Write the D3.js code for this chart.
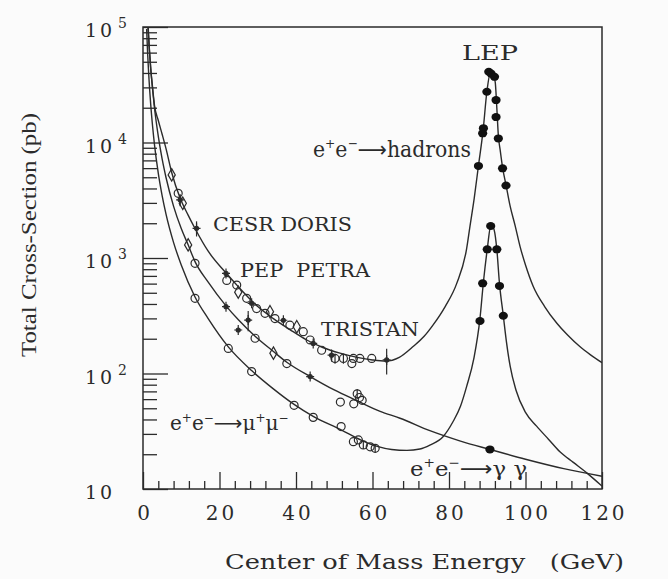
<!DOCTYPE html>
<html>
<head>
<meta charset="utf-8">
<script src="https://cdn.jsdelivr.net/npm/d3@7"></script>
<style>
  body { margin: 0; background: #fbfbfb; }
  svg { display: block; font-family: "DejaVu Serif", serif; }
  text { white-space: pre; }
</style>
</head>
<body>
<script>
// theory curves: [energy (GeV), cross-section (pb)]
const hadronCurve = [[1.3,100000],[1.6,68000],[2,44000],[2.5,30000],[3,21000],[4,15500],[5,11800],[6,8900],[7.5,5500],[9.7,3300],[11.8,2350],[13.6,1800],[17,1150],[21.9,730],[24.9,565],[30,380],[34,300],[38.4,240],[42.8,195],[47,168],[51.5,150],[56,138],[60,131],[63.5,128],[67,138],[70.7,172],[73.5,210],[75.9,265],[79,380],[82,600],[84.6,1200],[85.5,1900],[86.6,3300],[87.7,6300],[88.9,12600],[89.9,27500],[90.9,41000],[91.6,38500],[92.1,33000],[92.5,20000],[92.9,11500],[93.4,8500],[94,6100],[94.9,4300],[96,2800],[97.3,1900],[98.6,1250],[100,870],[102,570],[105,380],[108.2,272],[111,215],[114.2,171],[117,145],[120,124]];
const gammaCurve = [[1.35,100000],[1.7,62000],[2,45000],[2.5,29000],[3,20000],[4,11300],[5,7200],[6,5000],[8,2800],[10,1800],[11.8,1300],[13.6,930],[17,620],[21.7,385],[25,290],[29.3,210],[34.1,155],[37.6,125],[43.7,94],[50,72],[56,58],[62,47],[67.2,41],[75,32],[83,26],[90.7,22],[100,18.1],[110,15],[120,12.9]];
const muonCurve = [[0.95,96000],[1.2,60000],[1.5,38600],[2,21700],[2.5,13900],[3,9600],[4,5400],[5,3470],[6,2410],[8,1360],[10,870],[13.6,460],[17,300],[22.3,170],[28.4,106],[34,74],[39.5,54],[44.5,42.5],[51.8,32.5],[57,26.5],[61,23.5],[65,22],[69,21.6],[72.4,22.2],[75,24],[78.5,28.5],[81,38],[83,52],[84.6,77],[86.5,135],[88.1,300],[89,620],[90,1190],[91,1950],[91.8,1750],[92.5,1190],[93.2,600],[94.2,316],[95,190],[96,115],[97.5,72],[100,46],[102.9,35],[106,27],[109,21],[112.5,17],[116,13.8],[120,10.6]];

// low energy measurements (CESR, DORIS, PEP, PETRA, TRISTAN)
const hadronLowE   = [7.5, 9.2, 9.7, 10.4, 14.0, 21.7, 21.9, 24.5, 24.9, 27.1, 28.4, 29.7, 31.9, 33.2, 34.5, 36.7, 38.4, 40.2, 41.9, 43.7, 44.5, 46.7, 49.3, 50.2, 52.4, 54.6, 55.0, 56.7, 59.8, 63.7];
const hadronLowXS  = [5240, 3630, 3190, 2980, 1806, 736, 640, 583, 506, 448, 405, 365, 332, 343, 299, 289, 262, 254, 230, 195, 182, 159, 144, 135, 135, 122, 135, 135, 135, 131];
const hadronLowErr = [0, 0, 0.12, 0, 0.15, 0, 0, 0, 0, 0, 0, 0, 0, 0, 0, 0, 0, 0, 0, 0, 0, 0, 0.12, 0.1, 0.1, 0, 0, 0, 0, 0.25];
const hadronLowSym = ['d','o','x','d','x','x','o','o','d','o','x','o','o','d','o','x','o','d','o','o','x','o','x','o','o','o','o','o','o','x'];

const gammaLowE   = [11.8, 13.6, 21.7, 24.9, 27.5, 29.3, 34.1, 37.6, 43.7, 51.6, 55.1, 56.0, 56.6, 57.3];
const gammaLowXS  = [1298, 899, 379, 238, 290, 202, 150, 122, 94, 56.6, 54.6, 66.7, 62, 58.6];
const gammaLowErr = [0, 0, 0, 0, 0.2, 0, 0, 0, 0, 0, 0, 0.1, 0, 0];
const gammaLowSym = ['d','o','x','x','x','o','d','o','x','o','o','o','o','o'];

const muonLowE   = [13.6, 22.3, 28.4, 39.5, 44.5, 51.8, 55.0, 56.3, 57.6, 59.4, 60.7];
const muonLowXS  = [448, 165, 104, 53, 41.7, 34.7, 25.7, 26.6, 24.1, 23.2, 22.5];
const muonLowErr = [0, 0, 0, 0, 0, 0, 0, 0, 0.08, 0, 0.08];

// LEP measurements at the Z peak
const lepHadronE  = [87.7, 88.8, 89.0, 89.9, 90.4, 91.0, 91.9, 92.3, 92.3, 92.9, 94.0, 94.9];
const lepHadronXS = [6270, 12000, 13300, 27500, 41000, 39500, 37000, 23300, 16600, 10850, 5970, 4240];
const lepMuonE    = [88.1, 88.8, 90.0, 90.9, 92.5, 93.2, 94.2];
const lepMuonXS   = [285, 603, 1189, 1892, 1189, 573, 316];
const lepGammaE   = [90.7];
const lepGammaXS  = [22];

const xTicks = [0, 20, 40, 60, 80, 100, 120];
const yDecades = [10, 100, 1000, 10000, 100000];
const yExponents = ['', '2', '3', '4', '5'];

const ink = '#2b2b2b';

const svg = d3.select('body').append('svg').attr('width', 668).attr('height', 579);

const x = d3.scaleLinear().domain([0, 120]).range([143, 602]);
const y = d3.scaleLog().domain([10, 1e5]).range([489, 27]);

svg.append('clipPath').attr('id', 'plot')
  .append('rect')
  .attr('x', 143).attr('y', 27).attr('width', 602 - 143).attr('height', 489 - 27);

// minor / major ticks on the left (pointing inwards)
const yMinor = [];
yDecades.slice(0, -1).forEach(d => d3.range(2, 10).forEach(k => yMinor.push(d * k)));

function styleAxis(g) {
  g.select('.domain').remove();
  g.selectAll('line').attr('stroke', ink).attr('stroke-width', 1.3);
}

svg.append('g').attr('transform', 'translate(143,0)')
  .call(d3.axisLeft(y).tickValues(yMinor).tickSize(-14).tickFormat(''))
  .call(styleAxis);
svg.append('g').attr('transform', 'translate(143,0)')
  .call(d3.axisLeft(y).tickValues(yDecades).tickSize(-25).tickFormat(''))
  .call(styleAxis);

const xMinor = d3.range(0, 121, 4).filter(v => v % 20 !== 0);
svg.append('g').attr('transform', 'translate(0,489)')
  .call(d3.axisBottom(x).tickValues(xMinor).tickSize(-8).tickFormat(''))
  .call(styleAxis);
svg.append('g').attr('transform', 'translate(0,489)')
  .call(d3.axisBottom(x).tickValues(xTicks).tickSize(-17).tickPadding(17))
  .call(styleAxis)
  .call(g => g.selectAll('text')
    .attr('font-family', '"DejaVu Serif", serif')
    .attr('font-size', 20)
    .attr('letter-spacing', 3)
    .attr('dx', 1.5)
    .attr('fill', ink));

// frame
svg.append('rect')
  .attr('x', 143).attr('y', 27).attr('width', 602 - 143).attr('height', 489 - 27)
  .attr('fill', 'none').attr('stroke', ink).attr('stroke-width', 1.5);

// y tick labels: 10^n
const ylab = svg.selectAll('.ylab').data(yDecades).join('text')
  .attr('class', 'ylab')
  .attr('fill', ink);
ylab.append('tspan')
  .attr('x', 85).attr('y', d => y(d) + 10)
  .attr('font-size', 19).attr('letter-spacing', 3)
  .text('10');
ylab.append('tspan')
  .attr('x', 118).attr('y', d => y(d) + 1)
  .attr('font-size', 14)
  .text((d, i) => yExponents[i]);

// curves
const line = d3.line()
  .x(d => x(d[0]))
  .y(d => y(d[1]))
  .curve(d3.curveMonotoneX);

const curves = svg.append('g').attr('clip-path', 'url(#plot)');
[hadronCurve, gammaCurve, muonCurve].forEach(c => {
  curves.append('path')
    .attr('d', line(c))
    .attr('fill', 'none')
    .attr('stroke', ink)
    .attr('stroke-width', 1.4);
});

// open markers
function markers(es, vs, errs, syms) {
  const g = svg.append('g').attr('stroke', ink).attr('stroke-width', 1.2).attr('fill', 'none');
  es.forEach((e, i) => {
    const cx = x(e), cy = y(vs[i]);
    const err = errs ? errs[i] : 0;
    if (err > 0) {
      g.append('line')
        .attr('x1', cx).attr('x2', cx)
        .attr('y1', y(vs[i] * (1 + err))).attr('y2', y(vs[i] * (1 - err)));
    }
    const s = syms ? syms[i] : 'o';
    if (s === 'o') {
      g.append('circle').attr('cx', cx).attr('cy', cy).attr('r', 4);
    } else if (s === 'd') {
      g.append('path')
        .attr('transform', `translate(${cx},${cy})`)
        .attr('d', d3.symbol(d3.symbolDiamond).size(45)());
    } else {
      g.append('path')
        .attr('d', `M${cx - 4},${cy}H${cx + 4}M${cx},${cy - 5}V${cy + 5}`);
      g.append('circle').attr('cx', cx).attr('cy', cy).attr('r', 2).attr('fill', ink);
    }
  });
}

markers(hadronLowE, hadronLowXS, hadronLowErr, hadronLowSym);
markers(gammaLowE, gammaLowXS, gammaLowErr, gammaLowSym);
markers(muonLowE, muonLowXS, muonLowErr, null);

// filled LEP points
function dots(es, vs) {
  svg.append('g').selectAll('ellipse')
    .data(es)
    .join('ellipse')
    .attr('cx', d => x(d))
    .attr('cy', (d, i) => y(vs[i]))
    .attr('rx', 4.6).attr('ry', 4)
    .attr('fill', '#111');
}
dots(lepHadronE, lepHadronXS);
dots(lepMuonE, lepMuonXS);
dots(lepGammaE, lepGammaXS);

// text labels
function label(txt, x0, yb, fs, len) {
  const t = svg.append('text')
    .attr('x', x0).attr('y', yb)
    .attr('font-size', fs)
    .attr('fill', ink)
    .text(txt);
  if (len) t.attr('textLength', len).attr('lengthAdjust', 'spacingAndGlyphs');
}
label('LEP', 462, 60, 20, 56);
label('CESR DORIS', 213, 231, 18, 139);
label('PEP  PETRA', 240, 277, 18, 130);
label('TRISTAN', 321, 336, 18, 98);

// reaction labels: parts are [text, superscript?, arrow?]
function reaction(parts, x0, yb, fs, len) {
  const t = svg.append('text')
    .attr('x', x0).attr('y', yb)
    .attr('font-size', fs)
    .attr('fill', ink);
  if (len) t.attr('textLength', len).attr('lengthAdjust', 'spacingAndGlyphs');
  let up = false;
  parts.forEach(p => {
    const sup = p[1];
    const dy = sup && !up ? -fs * 0.42 : (!sup && up ? fs * 0.42 : 0);
    const s = t.append('tspan')
      .attr('dy', dy)
      .attr('font-size', sup ? fs * 0.6 : fs)
      .text(p[0]);
    if (p[2]) s.attr('font-family', '"DejaVu Sans", sans-serif');
    up = sup;
  });
}
const arrow = ['\u27F6', false, true];
reaction([['e', false], ['+', true], ['e', false], ['\u2212', true], arrow, ['hadrons', false]], 313, 157, 22, 158);
reaction([['e', false], ['+', true], ['e', false], ['\u2212', true], arrow, ['\u03BC', false], ['+', true], ['\u03BC', false], ['\u2212', true]], 170, 430, 20, null);
reaction([['e', false], ['+', true], ['e', false], ['\u2212', true], arrow, ['\u03B3 \u03B3', false]], 410, 476, 21, 117);

// axis titles
svg.append('text')
  .attr('x', 225).attr('y', 569)
  .attr('font-size', 20.5)
  .attr('textLength', 399).attr('lengthAdjust', 'spacingAndGlyphs')
  .attr('fill', ink)
  .text('Center of Mass Energy   (GeV)');

svg.append('text')
  .attr('transform', 'translate(36,235) rotate(-90)')
  .attr('text-anchor', 'middle')
  .attr('font-family', '"Liberation Serif", serif')
  .attr('font-size', 21)
  .attr('textLength', 244).attr('lengthAdjust', 'spacingAndGlyphs')
  .attr('fill', ink)
  .text('Total Cross-Section (pb)');
</script>
</body>
</html>
